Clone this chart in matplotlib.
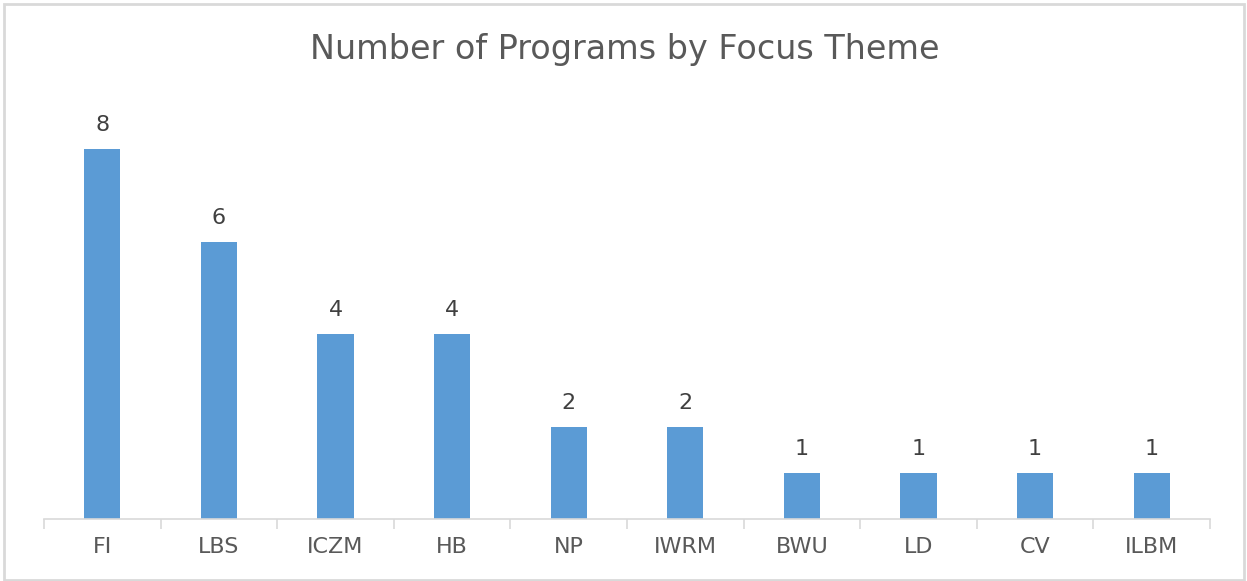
import matplotlib
matplotlib.use('Agg')
import matplotlib.pyplot as plt
from matplotlib.patches import Rectangle

# Chart data
themes = ['FI', 'LBS', 'ICZM', 'HB', 'NP', 'IWRM', 'BWU', 'LD', 'CV', 'ILBM']
programs = [8, 6, 4, 4, 2, 2, 1, 1, 1, 1]

plt.rcParams['font.family'] = ['DejaVu Sans']

W, H = 1247, 581
fig = plt.figure(figsize=(W / 100, H / 100), dpi=100)

# light grey chart border
fig.patches.append(Rectangle((4 / W, 1 / H), 1240 / W, 576 / H, transform=fig.transFigure,
                             fill=False, edgecolor='#d9d9d9', linewidth=2))

# plot area in pixels
left, right, bottom, top = 44, 1210, 519, 103
ax = fig.add_axes([left / W, (H - bottom) / H, (right - left) / W, (bottom - top) / H])

x = range(len(themes))
bars = ax.bar(x, programs, width=0.31, color='#5b9bd5')
for b, v in zip(bars, programs):
    ax.text(b.get_x() + b.get_width() / 2, v + 0.3, str(v), ha='center', va='bottom',
            fontsize=16, color='#404040')

ax.set_xlim(-0.5, len(themes) - 0.5)
ax.set_ylim(0, 9)
ax.set_yticks([])
for s in ['top', 'right', 'left']:
    ax.spines[s].set_visible(False)
ax.spines['bottom'].set_color('#d9d9d9')
ax.spines['bottom'].set_linewidth(1.2)

# category labels and tick marks between categories
ax.set_xticks(list(x))
ax.set_xticklabels(themes, fontsize=16, color='#595959')
ax.tick_params(axis='x', length=0, pad=13)
ax.set_xticks([i - 0.5 for i in range(len(themes) + 1)], minor=True)
ax.tick_params(axis='x', which='minor', length=7, color='#d9d9d9', width=1.2)

fig.text(625 / W, 1 - 49 / H, 'Number of Programs by Focus Theme', ha='center', va='center',
         fontsize=24, color='#595959')

fig.savefig('out.png', dpi=100)
